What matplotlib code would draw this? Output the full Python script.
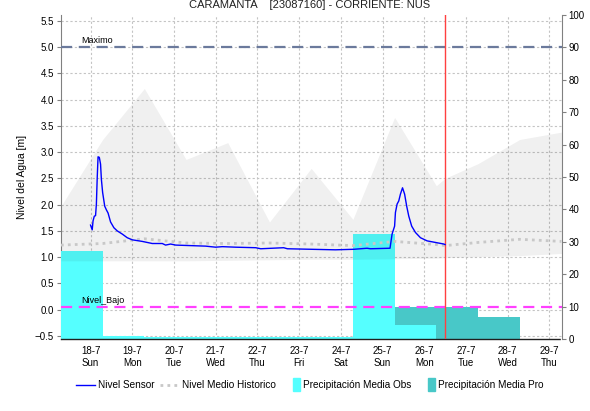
import matplotlib.pyplot as plt
from matplotlib.lines import Line2D
from matplotlib.patches import Patch, Rectangle
from matplotlib.legend_handler import HandlerPatch

plt.rcParams['font.family'] = ['Liberation Sans', 'DejaVu Sans']

# dias del mes (julio), en fraccion de dia
tick_days = [18, 19, 20, 21, 22, 23, 24, 25, 26, 27, 28, 29]
tick_wd = ['Sun', 'Mon', 'Tue', 'Wed', 'Thu', 'Fri', 'Sat', 'Sun', 'Mon', 'Tue', 'Wed', 'Thu']

# nivel sensor [m]
sensor_t = [18.00, 18.04, 18.06, 18.09, 18.12, 18.14, 18.16, 18.18, 18.21, 18.24,
            18.26, 18.29, 18.34, 18.38, 18.42, 18.48, 18.56, 18.64, 18.76, 18.88,
            19.00, 19.24, 19.48, 19.72, 19.80, 19.92, 20.04, 20.76, 21.00, 21.16,
            21.48, 21.96, 22.08, 22.63, 22.72, 23.87, 24.31, 24.63, 24.71, 25.18,
            25.23, 25.29, 25.31, 25.35, 25.39, 25.43, 25.48, 25.53, 25.58, 25.63,
            25.70, 25.79, 25.91, 26.07, 26.27, 26.47, 26.50]
sensor_v = [1.61, 1.52, 1.69, 1.78, 1.79, 2.01, 2.51, 2.91, 2.90, 2.77,
            2.48, 2.23, 1.97, 1.90, 1.84, 1.67, 1.56, 1.50, 1.44, 1.37,
            1.33, 1.30, 1.26, 1.26, 1.23, 1.25, 1.23, 1.21, 1.19, 1.20,
            1.19, 1.18, 1.16, 1.18, 1.16, 1.14, 1.15, 1.17, 1.16, 1.17,
            1.44, 1.59, 1.85, 2.01, 2.07, 2.20, 2.32, 2.20, 1.97, 1.78,
            1.59, 1.47, 1.37, 1.31, 1.28, 1.25, 1.24]

# nivel medio historico y banda min-max [m]
hist_t = [17.29, 18.29, 19.29, 20.29, 21.29, 22.29, 23.29, 24.29, 25.29, 26.29,
          26.50, 27.29, 28.29, 29.29]
hist_mean = [1.23, 1.26, 1.35, 1.27, 1.26, 1.27, 1.25, 1.22, 1.30, 1.24,
             1.22, 1.28, 1.34, 1.30]
hist_max = [1.97, 3.24, 4.21, 2.86, 3.18, 1.67, 2.69, 1.72, 3.66, 2.36,
            2.50, 2.78, 3.24, 3.38]
hist_min = [0.93, 0.93, 0.93, 0.93, 0.94, 0.95, 0.96, 0.96, 0.97, 0.98,
            0.99, 1.01, 1.03, 1.07]

# precipitacion diaria [mm]
obs_t = [17.29, 18.29, 19.29, 20.29, 21.29, 22.29, 23.29, 24.29, 25.29]
obs_mm = [27.2, 1.0, 0.5, 0.5, 0.5, 0.5, 0.5, 32.4, 4.3]
pro_t = [25.29, 26.29, 27.29]
pro_mm = [9.8, 9.8, 6.8]

nivel_max = 5.0
nivel_bajo = 0.06
ahora = 26.5


def narrow_box(legend, orig_handle, xdescent, ydescent, width, height, fontsize):
    # cuadro angosto y alto para las barras en la leyenda
    return Rectangle((-xdescent + width - 5, -ydescent - 2), 5, height + 4)


fig = plt.figure(figsize=(5.9, 4.11), dpi=100)
rect = [61 / 590, 1 - 339 / 411, 500.5 / 590, 324 / 411]
ax = fig.add_axes(rect)
ax2 = ax.twinx()
ax3 = fig.add_axes(rect, sharex=ax, sharey=ax)
ax3.axis('off')
ax3.patch.set_visible(False)
ax.set_zorder(0); ax2.set_zorder(1); ax3.set_zorder(2)

ax.set_xlim(17 + 7 / 24, 29 + 7 / 24)
ax.set_ylim(-0.557, 5.608)
ax2.set_ylim(0, 100)

ax.grid(True, color='#c4c4c4', linestyle=(0, (2, 2)), linewidth=0.8)
ax.set_yticks([-0.5, 0.0, 0.5, 1.0, 1.5, 2.0, 2.5, 3.0, 3.5, 4.0, 4.5, 5.0, 5.5])
ax.set_xticks(tick_days)
ax.set_xticklabels([f'{d}-7\n{w}' for d, w in zip(tick_days, tick_wd)])
ax.tick_params(axis='x', length=0, pad=5, labelsize=7)
ax.tick_params(axis='y', length=3, color='#808080', labelsize=7, pad=2)
ax.set_ylabel('Nivel del Agua [m]', fontsize=7.5, labelpad=6)
for s in ['top', 'right', 'bottom']:
    ax.spines[s].set_visible(False)
ax.spines['left'].set_color('#808080')

# barras de precipitacion (eje derecho)
ax2.bar(pro_t, pro_mm, width=1, align='edge', color='#48c8c8', linewidth=0)
ax2.bar(obs_t, obs_mm, width=1, align='edge', color='#55ffff', linewidth=0)
ax2.set_yticks(range(0, 101, 10))
ax2.tick_params(axis='y', length=3, color='#808080', labelsize=7, pad=2)
for s in ['top', 'left']:
    ax2.spines[s].set_visible(False)
ax2.spines['right'].set_color('#808080')
ax2.spines['bottom'].set_linestyle((0, (1, 1)))
ax2.spines['bottom'].set_color('#202020')
ax2.spines['bottom'].set_linewidth(1.0)
ax2.set_ylabel('Precipitación [mm]', fontsize=7.5, labelpad=18)

# banda historica, niveles de referencia y nivel sensor
ax3.fill_between(hist_t, hist_min, hist_max, color='black', alpha=0.06, linewidth=0)
ax3.plot(hist_t, hist_mean, color='#c8c8c8', linewidth=2, linestyle=(0, (1, 1.5)))
ax3.axhline(nivel_max, color='#6b7a9c', linewidth=1.6, linestyle=(0, (5, 3)))
ax3.axhline(nivel_bajo, color='#ff40ff', linewidth=1.6, linestyle=(0, (5, 3)))
ax3.text(17.77, nivel_max + 0.03, 'Maximo', fontsize=6.5, va='bottom')
ax3.text(17.77, nivel_bajo + 0.03, 'Nivel_Bajo', fontsize=6.5, va='bottom')
ax3.axvline(ahora, color='#ff4040', linewidth=1)
ax3.plot(sensor_t, sensor_v, color='#0000ff', linewidth=1)

fig.text(0.525, 1 - 5 / 411, 'CARAMANTA    [23087160] - CORRIENTE: NUS',
         ha='center', va='center', fontsize=8, color='#202020')

handles = [Line2D([], [], color='#0000ff', linewidth=1),
           Line2D([], [], color='#c8c8c8', linewidth=2, linestyle=(0, (1, 1.5))),
           Patch(color='#55ffff'), Patch(color='#48c8c8')]
labels = ['Nivel Sensor', 'Nivel Medio Historico', 'Precipitación Media Obs',
          'Precipitación Media Pro']
fig.legend(handles, labels, loc='center', bbox_to_anchor=(0.525, 1 - 385 / 411),
           ncol=4, frameon=False, fontsize=7.2, handlelength=1.9,
           columnspacing=0.5, handletextpad=0.3,
           handler_map={Patch: HandlerPatch(patch_func=narrow_box)})

fig.savefig('out.png', dpi=100)
